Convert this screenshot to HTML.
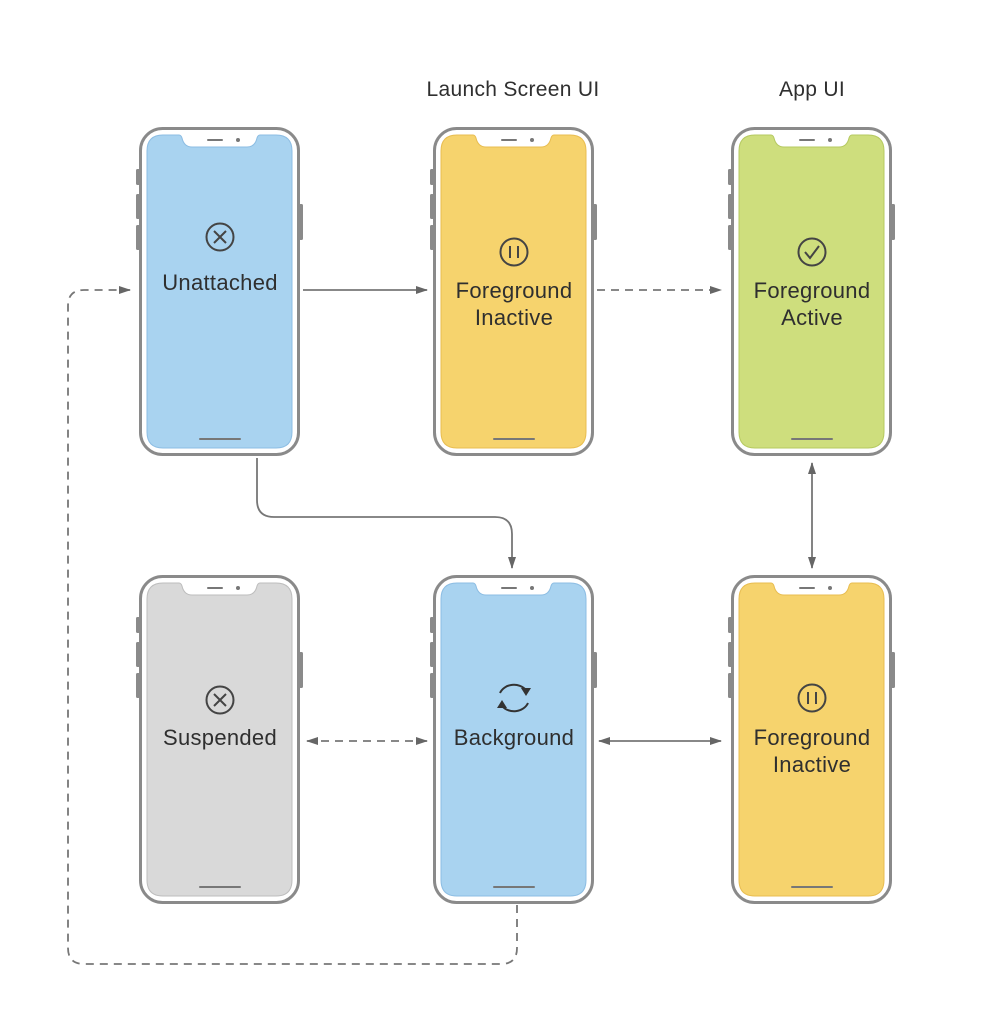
<!DOCTYPE html>
<html><head><style>
body{margin:0;background:#fff;}
svg text{font-family:"Liberation Sans",sans-serif;fill:#2f2f2f;letter-spacing:0.3px;}
</style></head><body>
<svg width="1006" height="1022" viewBox="0 0 1006 1022" xmlns="http://www.w3.org/2000/svg">
<defs>
<marker id="ah" markerWidth="12" markerHeight="10" refX="11" refY="5" orient="auto-start-reverse" markerUnits="userSpaceOnUse">
<path d="M0,1 L12,5 L0,9 z" fill="#666"/>
</marker>
<g id="frame">
<rect x="-3" y="42" width="4" height="16" rx="1.5" fill="#8a8a8a"/>
<rect x="-3" y="67" width="4" height="25" rx="1.5" fill="#8a8a8a"/>
<rect x="-3" y="98" width="4" height="25" rx="1.5" fill="#8a8a8a"/>
<rect x="160" y="77" width="4" height="36" rx="1.5" fill="#8a8a8a"/>
<rect x="1.5" y="1.5" width="158" height="326" rx="22" fill="#fff" stroke="#8a8a8a" stroke-width="3"/>
</g>
<path id="scr" d="M24,8 H40 Q42,8 43,11 Q45,20 53,20 H108 Q116,20 118,11 Q119,8 121,8 H137 Q153,8 153,24 V305 Q153,321 137,321 H24 Q8,321 8,305 V24 Q8,8 24,8 Z"/>
<g id="det">
<rect x="68" y="12" width="16" height="2" rx="1" fill="#777"/>
<circle cx="99" cy="13" r="2" fill="#777"/>
<rect x="60" y="311" width="42" height="2" rx="1" fill="#777"/>
</g>
</defs>

<text x="513" y="96" font-size="21" text-anchor="middle">Launch Screen UI</text>
<text x="812" y="96" font-size="21" text-anchor="middle">App UI</text>

<g stroke="#777" stroke-width="1.8" fill="none">
<line x1="303" y1="290" x2="427" y2="290" marker-end="url(#ah)"/>
<line x1="597" y1="290" x2="721" y2="290" stroke-dasharray="8,6" marker-end="url(#ah)"/>
<line x1="812" y1="463" x2="812" y2="568" marker-start="url(#ah)" marker-end="url(#ah)"/>
<line x1="599" y1="741" x2="721" y2="741" marker-start="url(#ah)" marker-end="url(#ah)"/>
<line x1="307" y1="741" x2="427" y2="741" stroke-dasharray="8,6" marker-start="url(#ah)" marker-end="url(#ah)"/>
<path d="M257,458 V500 Q257,517 274,517 H495 Q512,517 512,534 V568" marker-end="url(#ah)"/>
<path d="M517,905 V948 Q517,964 501,964 H84 Q68,964 68,948 V306 Q68,290 84,290 H130" stroke-dasharray="8,6" marker-end="url(#ah)"/>
</g>

<g transform="translate(139,127)"><use href="#frame"/><use href="#scr" fill="#a9d3f0" stroke="#8cbde3" stroke-width="1"/><use href="#det"/>
<circle cx="81" cy="110" r="13.5" fill="none" stroke="#444" stroke-width="2"/><path d="M75,104 L87,116 M87,104 L75,116" stroke="#444" stroke-width="2"/>
<text x="81" y="163" font-size="22" text-anchor="middle">Unattached</text></g>

<g transform="translate(433,127)"><use href="#frame"/><use href="#scr" fill="#f6d36d" stroke="#e8bd50" stroke-width="1"/><use href="#det"/>
<circle cx="81" cy="125" r="13.5" fill="none" stroke="#444" stroke-width="2"/><path d="M77,119 V131 M85,119 V131" stroke="#444" stroke-width="2"/>
<text x="81" y="171" font-size="22" text-anchor="middle">Foreground</text><text x="81" y="198" font-size="22" text-anchor="middle">Inactive</text></g>

<g transform="translate(731,127)"><use href="#frame"/><use href="#scr" fill="#cede7d" stroke="#b5c960" stroke-width="1"/><use href="#det"/>
<circle cx="81" cy="125" r="13.5" fill="none" stroke="#444" stroke-width="2"/><path d="M74,125 L79,131 L88,119" stroke="#444" stroke-width="2" fill="none"/>
<text x="81" y="171" font-size="22" text-anchor="middle">Foreground</text><text x="81" y="198" font-size="22" text-anchor="middle">Active</text></g>

<g transform="translate(139,575)"><use href="#frame"/><use href="#scr" fill="#d9d9d9" stroke="#bdbdbd" stroke-width="1"/><use href="#det"/>
<circle cx="81" cy="125" r="13.5" fill="none" stroke="#444" stroke-width="2"/><path d="M75,119 L87,131 M87,119 L75,131" stroke="#444" stroke-width="2"/>
<text x="81" y="170" font-size="22" text-anchor="middle">Suspended</text></g>

<g transform="translate(433,575)"><use href="#frame"/><use href="#scr" fill="#a9d3f0" stroke="#8cbde3" stroke-width="1"/><use href="#det"/>
<path d="M67,118 A15,13 0 0 1 93,115" stroke="#333" stroke-width="2" fill="none"/><path d="M88,113 L98,113 L93,121 z" fill="#333"/>
<path d="M95,128 A15,13 0 0 1 69,131" stroke="#333" stroke-width="2" fill="none"/><path d="M74,133 L64,133 L69,125 z" fill="#333"/>
<text x="81" y="170" font-size="22" text-anchor="middle">Background</text></g>

<g transform="translate(731,575)"><use href="#frame"/><use href="#scr" fill="#f6d36d" stroke="#e8bd50" stroke-width="1"/><use href="#det"/>
<circle cx="81" cy="123" r="13.5" fill="none" stroke="#444" stroke-width="2"/><path d="M77,117 V129 M85,117 V129" stroke="#444" stroke-width="2"/>
<text x="81" y="170" font-size="22" text-anchor="middle">Foreground</text><text x="81" y="197" font-size="22" text-anchor="middle">Inactive</text></g>
</svg>
</body></html>
